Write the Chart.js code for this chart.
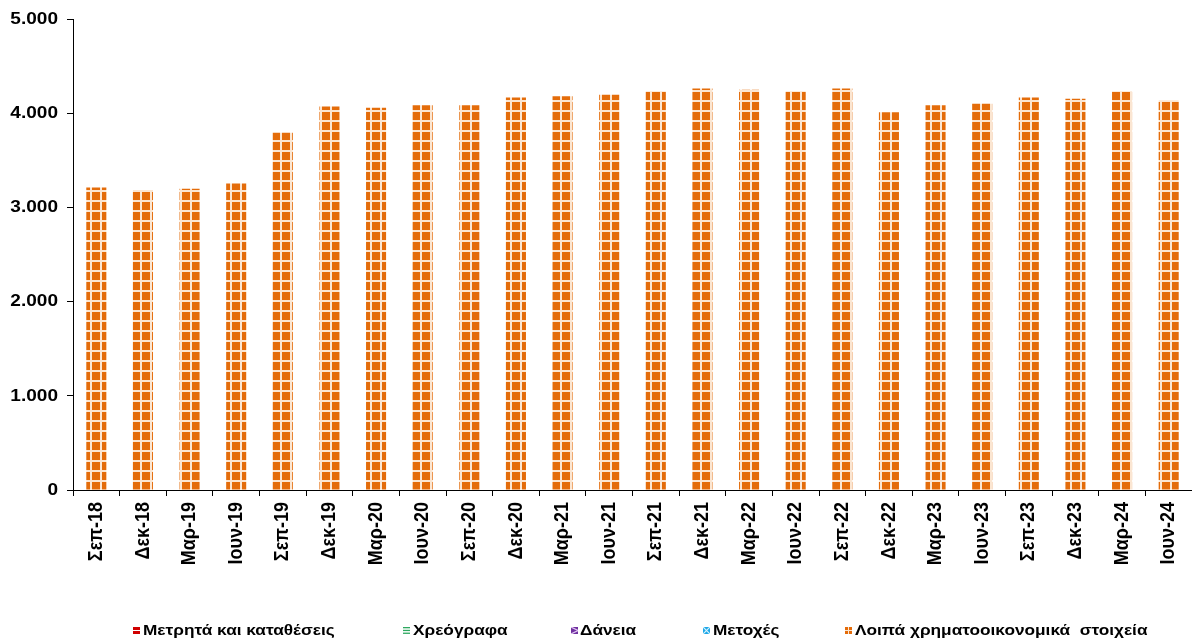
<!DOCTYPE html>
<html>
<head>
<meta charset="utf-8">
<script src="https://cdn.jsdelivr.net/npm/chart.js@4.4.1/dist/chart.umd.min.js"></script>
<style>
  html, body { margin: 0; padding: 0; background: #fff; }
  #wrap { position: relative; width: 1192px; height: 644px; overflow: hidden; }
  #c { position: absolute; left: 0; top: 0; }
  .lgbox { position: absolute; top: 627px; width: 7px; height: 7px; }
  .lgtxt { position: absolute; top: 620px; height: 20px; line-height: 20px;
        font-family: "Liberation Sans", Arial, sans-serif; font-weight: bold; font-size: 15px; color: #000;
        white-space: pre; transform: scaleX(1.15); transform-origin: 0 50%; }
</style>
</head>
<body>
<div id="wrap">
  <canvas id="c" width="1192" height="644"></canvas>
</div>
<script>
// ---- data ----
const categories = ["Σεπ-18","Δεκ-18","Μαρ-19","Ιουν-19","Σεπ-19","Δεκ-19","Μαρ-20","Ιουν-20","Σεπ-20","Δεκ-20","Μαρ-21","Ιουν-21","Σεπ-21","Δεκ-21","Μαρ-22","Ιουν-22","Σεπ-22","Δεκ-22","Μαρ-23","Ιουν-23","Σεπ-23","Δεκ-23","Μαρ-24","Ιουν-24"];
const cashDeposits = [0,0,0,0,0,0,0,0,0,0,0,0,0,0,0,0,0,0,0,0,0,0,0,0];
const securities   = [0,0,0,0,0,0,0,0,0,0,0,0,0,0,0,0,0,0,0,0,0,0,0,0];
const loans        = [0,0,0,0,0,0,0,0,0,0,0,0,0,0,0,0,0,0,0,0,0,0,0,0];
const equities     = [0,0,0,0,0,0,0,0,0,0,0,0,0,0,0,0,0,0,0,0,0,0,0,0];
const otherFinancial = [3213,3185,3199,3256,3793,4073,4059,4087,4087,4169,4183,4197,4236,4264,4250,4236,4264,4013,4087,4102,4169,4154,4236,4140];
const seriesNames = ["Μετρητά και καταθέσεις","Χρεόγραφα","Δάνεια","Μετοχές","Λοιπά χρηματοοικονομικά  στοιχεία"];
const yTicks = [0,1000,2000,3000,4000,5000];

// ---- patterns ----
function makePattern(kind) {
  const t = document.createElement('canvas');
  const ctx = t.getContext('2d');
  if (kind === 'grid') {
    t.width = 10; t.height = 10;
    ctx.fillStyle = '#E46C0A'; ctx.fillRect(0,0,10,10);
    ctx.fillStyle = '#FBE6D2';
    ctx.fillRect(0,0,10,2); ctx.fillRect(0,0,2,10);
  } else if (kind === 'gridsmall') {
    t.width = 7; t.height = 7;
    ctx.fillStyle = '#E46C0A'; ctx.fillRect(0,0,7,7);
    ctx.fillStyle = '#FBE6D2'; ctx.fillRect(0,3,7,1); ctx.fillRect(3,0,1,7);
  } else if (kind === 'red') {
    t.width = 7; t.height = 7;
    ctx.fillStyle = '#D00000'; ctx.fillRect(0,0,7,7);
    ctx.fillStyle = '#fff'; ctx.fillRect(0,3,7,1);
  } else if (kind === 'green') {
    t.width = 7; t.height = 7;
    ctx.fillStyle = '#fff'; ctx.fillRect(0,0,7,7);
    ctx.fillStyle = '#2EA860'; ctx.fillRect(0,0,7,1.3); ctx.fillRect(0,2.8,7,1.3); ctx.fillRect(0,5.6,7,1.3);
  } else if (kind === 'purple') {
    t.width = 7; t.height = 7;
    ctx.fillStyle = '#7030A0'; ctx.fillRect(0,0,7,7);
    ctx.strokeStyle = '#E0C8F0'; ctx.lineWidth = 1.2;
    ctx.beginPath(); ctx.moveTo(0,0); ctx.lineTo(7,3.5); ctx.lineTo(0,7); ctx.stroke();
  } else if (kind === 'cyan') {
    t.width = 7; t.height = 7;
    ctx.fillStyle = '#1FA8E8'; ctx.fillRect(0,0,7,7);
    ctx.strokeStyle = '#D8F2FC'; ctx.lineWidth = 1.2;
    ctx.beginPath(); ctx.moveTo(0,0); ctx.lineTo(7,7); ctx.moveTo(7,0); ctx.lineTo(0,7); ctx.stroke();
  }
  return t;
}

const canvas = document.getElementById('c');
const cctx = canvas.getContext('2d');
// Horizontal stretch of the chart's text, to mimic the wide glyphs of the original
const SX = 1.12;
const origFill = cctx.fillText.bind(cctx);
cctx.fillText = function (text, x, y, maxWidth) {
  const m = this.getTransform();
  const p = m.transformPoint(new DOMPoint(x, y));
  this.save();
  const S = new DOMMatrix().translate(p.x, p.y).scale(SX, 1).translate(-p.x, -p.y);
  this.setTransform(S.multiply(m));
  if (maxWidth === undefined) origFill(text, x, y); else origFill(text, x, y, maxWidth);
  this.restore();
};

const orangePattern = cctx.createPattern(makePattern('grid'), 'repeat');

const seriesColors = ['#D00000','#2EA860','#7030A0','#1FA8E8', orangePattern];
const seriesData = [cashDeposits, securities, loans, equities, otherFinancial];

const datasets = seriesNames.map((n, i) => ({
  label: n,
  data: seriesData[i],
  backgroundColor: seriesColors[i],
  borderWidth: 0,
  barPercentage: 0.43,
  categoryPercentage: 1.0
}));

const FONT = "'Liberation Sans', Arial, sans-serif";

new Chart(canvas, {
  type: 'bar',
  data: { labels: categories, datasets },
  options: {
    responsive: false,
    animation: false,
    devicePixelRatio: 1,
    layout: { padding: { top: 19, right: 0, bottom: 0, left: 0 } },
    plugins: { legend: { display: false }, tooltip: { enabled: false } },
    scales: {
      x: {
        stacked: true,
        offset: true,
        grid: { display: true, drawOnChartArea: false, drawTicks: true, tickLength: 6, color: '#000', offset: true },
        border: { display: true, color: '#000', width: 1 },
        ticks: { color: '#000', font: { family: FONT, weight: 'bold', size: 18 }, maxRotation: 90, minRotation: 90, padding: 6, autoSkip: false },
        afterFit: (s) => { s.height = 154; s.paddingLeft = 0; s.paddingRight = 0; }
      },
      y: {
        stacked: true,
        min: 0, max: 5000,
        afterBuildTicks: (s) => { s.ticks = yTicks.map(v => ({ value: v })); },
        grid: { display: true, drawOnChartArea: false, drawTicks: true, tickLength: 6, color: '#000' },
        border: { display: true, color: '#000', width: 1 },
        ticks: { color: '#000', font: { family: FONT, weight: 'bold', size: 17 }, padding: 9,
                 callback: (v) => Number(v).toLocaleString('de-DE') },
        afterFit: (s) => { s.width = 73; }
      }
    }
  }
});

// ---- legend (HTML) ----
const legendKinds = ['red','green','purple','cyan','gridsmall'];
const legendBoxX = [133, 403, 571, 703, 845];
const legendTextX = [143, 413, 580, 713, 855];
const wrap = document.getElementById('wrap');
seriesNames.forEach((n, i) => {
  const box = document.createElement('canvas');
  box.className = 'lgbox';
  box.width = 7; box.height = 7;
  box.style.left = legendBoxX[i] + 'px';
  const bctx = box.getContext('2d');
  bctx.fillStyle = bctx.createPattern(makePattern(legendKinds[i]), 'repeat');
  bctx.fillRect(0,0,7,7);
  wrap.appendChild(box);
  const sp = document.createElement('div');
  sp.className = 'lgtxt';
  sp.style.left = legendTextX[i] + 'px';
  sp.textContent = n;
  wrap.appendChild(sp);
});
</script>
</body>
</html>
